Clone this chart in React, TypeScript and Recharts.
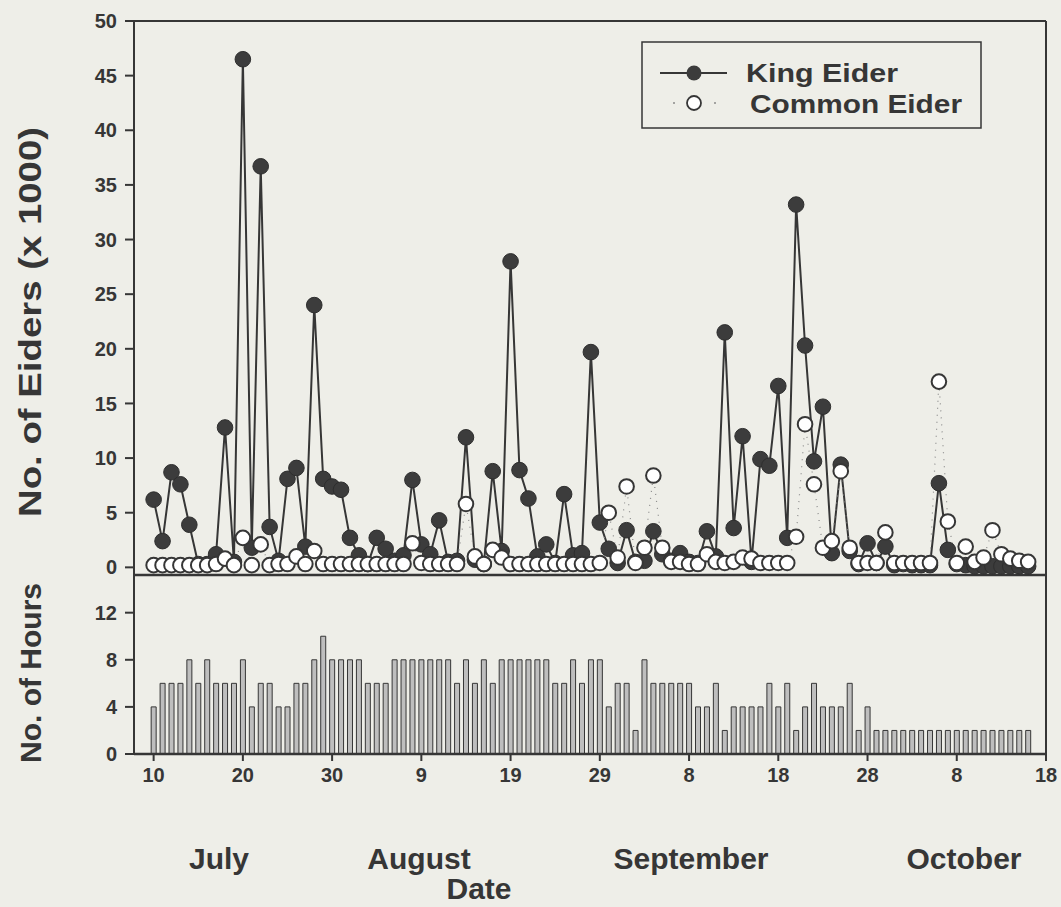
import React from 'react';
import { ComposedChart, Line, XAxis, YAxis, BarChart, Bar, ReferenceLine } from 'recharts';

// King Eider counts (x 1000), one per day starting 10 July
const kingEider = [
  6.2, 2.4, 8.7, 7.6, 3.9, 0.3, 0.3, 1.2, 12.8, 0.5,
  46.5, 1.8, 36.7, 3.7, 0.6, 8.1, 9.1, 1.9, 24.0, 8.1,
  7.4, 7.1, 2.7, 1.1, 0.3, 2.7, 1.7, 0.6, 1.1, 8.0,
  2.1, 1.2, 4.3, 0.5, 0.6, 11.9, 0.7, 0.3, 8.8, 1.5,
  28.0, 8.9, 6.3, 1.0, 2.1, 0.4, 6.7, 1.1, 1.3, 19.7,
  4.1, 1.7, 0.4, 3.4, 0.5, 0.6, 3.3, 1.2, 0.6, 1.3,
  0.5, 0.4, 3.3, 1.0, 21.5, 3.6, 12.0, 0.5, 9.9, 9.3,
  16.6, 2.7, 33.2, 20.3, 9.7, 14.7, 1.3, 9.4, 1.5, 0.3,
  2.2, 0.4, 1.9, 0.2, 0.3, 0.2, 0.2, 0.2, 7.7, 1.6,
  0.3, 0.2, 0.1, 0.1, 0.1, 0.1, 0.1, 0.1, 0.1,
];

// Common Eider counts (x 1000)
const commonEider = [
  0.2, 0.2, 0.2, 0.2, 0.2, 0.2, 0.2, 0.3, 0.8, 0.2,
  2.7, 0.2, 2.1, 0.2, 0.3, 0.3, 1.0, 0.3, 1.5, 0.3,
  0.3, 0.3, 0.3, 0.3, 0.3, 0.3, 0.3, 0.3, 0.3, 2.2,
  0.4, 0.3, 0.3, 0.3, 0.3, 5.8, 1.0, 0.3, 1.6, 0.9,
  0.3, 0.3, 0.3, 0.3, 0.3, 0.3, 0.3, 0.3, 0.3, 0.3,
  0.4, 5.0, 0.9, 7.4, 0.4, 1.8, 8.4, 1.8, 0.5, 0.5,
  0.3, 0.3, 1.2, 0.5, 0.4, 0.5, 0.9, 0.8, 0.4, 0.4,
  0.4, 0.4, 2.8, 13.1, 7.6, 1.8, 2.4, 8.8, 1.8, 0.4,
  0.4, 0.4, 3.2, 0.4, 0.4, 0.4, 0.4, 0.4, 17.0, 4.2,
  0.4, 1.9, 0.5, 0.9, 3.4, 1.2, 0.8, 0.6, 0.5,
];

// Hours of observation per day
const hoursObserved = [
  4, 6, 6, 6, 8, 6, 8, 6, 6, 6,
  8, 4, 6, 6, 4, 4, 6, 6, 8, 10,
  8, 8, 8, 8, 6, 6, 6, 8, 8, 8,
  8, 8, 8, 8, 6, 8, 6, 8, 6, 8,
  8, 8, 8, 8, 8, 6, 6, 8, 6, 8,
  8, 4, 6, 6, 2, 8, 6, 6, 6, 6,
  6, 4, 4, 6, 2, 4, 4, 4, 4, 6,
  4, 6, 2, 4, 6, 4, 4, 4, 6, 2,
  4, 2, 2, 2, 2, 2, 2, 2, 2, 2,
  2, 2, 2, 2, 2, 2, 2, 2, 2,
];

const xTickDays = [0, 10, 20, 30, 40, 50, 60, 70, 80, 90, 100];
const xTickLabels = ['10', '20', '30', '9', '19', '29', '8', '18', '28', '8', '18'];
const eiderTicks = [0, 5, 10, 15, 20, 25, 30, 35, 40, 45, 50];
const hourTicks = [0, 4, 8, 12];
const monthLabels = ['July', 'August', 'September', 'October'];
const seriesNames = ['King Eider', 'Common Eider'];

const eiderData = kingEider.map((k, i) => ({ day: i, king: k, common: commonEider[i] }));
const hoursData = hoursObserved.map((h, i) => ({ day: i, hours: h }));

const INK = '#363636';
const BG = '#eeeee8';
const FONT = '"Liberation Sans", Arial, Helvetica, sans-serif';
const X_DOMAIN: [number, number] = [-2.2, 100];
const monthX = [219, 419, 691, 964];

const tickStyle = { fill: INK, fontSize: 20, fontWeight: 700, fontFamily: FONT };

const KingDot = (p: any) => {
  if (p.cx == null || p.cy == null) return <g key={p.key} />;
  return <circle key={p.key} cx={p.cx} cy={p.cy} r={7.8} fill="#3c3c3c" stroke="#2e2e2e" strokeWidth={1} />;
};

const CommonDot = (p: any) => {
  if (p.cx == null || p.cy == null) return <g key={p.key} />;
  return <circle key={p.key} cx={p.cx} cy={p.cy} r={7.3} fill="#ffffff" stroke={INK} strokeWidth={2} />;
};

export default function App() {
  return (
    <div style={{ position: 'absolute', left: 0, top: 0, width: 1061, height: 907, background: BG, overflow: 'hidden' }}>
      <div style={{ position: 'absolute', left: 0, top: 0 }}>
        <ComposedChart width={1061} height={580} data={eiderData} margin={{ top: 21, right: 15, bottom: 5, left: 74 }}>
          <XAxis type="number" dataKey="day" domain={X_DOMAIN} hide />
          <YAxis
            width={60}
            domain={[-0.7, 50]}
            ticks={eiderTicks}
            interval={0}
            tickSize={9}
            tickMargin={8}
            axisLine={{ stroke: INK, strokeWidth: 2 }}
            tickLine={{ stroke: INK, strokeWidth: 2 }}
            tick={tickStyle}
          />
          <ReferenceLine y={50} stroke={INK} strokeWidth={2} />
          <ReferenceLine y={-0.7} stroke={INK} strokeWidth={2.5} />
          <ReferenceLine x={100} stroke={INK} strokeWidth={2} />
          <Line
            type="linear"
            dataKey="king"
            stroke={INK}
            strokeWidth={2}
            dot={KingDot}
            isAnimationActive={false}
          />
          <Line
            type="linear"
            dataKey="common"
            stroke="#8a8a8a"
            strokeWidth={1.2}
            strokeDasharray="1 6"
            dot={CommonDot}
            isAnimationActive={false}
          />
        </ComposedChart>
      </div>
      <div style={{ position: 'absolute', left: 0, top: 575 }}>
        <BarChart width={1061} height={219} data={hoursData} margin={{ top: 0, right: 15, bottom: 0, left: 74 }} barSize={5}>
          <XAxis
            type="number"
            dataKey="day"
            domain={X_DOMAIN}
            ticks={xTickDays}
            interval={0}
            tickFormatter={(v: number) => xTickLabels[xTickDays.indexOf(v)]}
            height={40}
            tickSize={7}
            tickMargin={7}
            axisLine={{ stroke: INK, strokeWidth: 2.5 }}
            tickLine={{ stroke: INK, strokeWidth: 2 }}
            tick={tickStyle}
          />
          <YAxis
            width={60}
            domain={[0, 15.2]}
            ticks={hourTicks}
            interval={0}
            tickSize={9}
            tickMargin={8}
            axisLine={{ stroke: INK, strokeWidth: 2 }}
            tickLine={{ stroke: INK, strokeWidth: 2 }}
            tick={tickStyle}
          />
          <ReferenceLine x={100} stroke={INK} strokeWidth={2} />
          <Bar dataKey="hours" fill="#bebebe" stroke={INK} strokeWidth={1} isAnimationActive={false} />
        </BarChart>
      </div>
      <svg width={1061} height={907} style={{ position: 'absolute', left: 0, top: 0, pointerEvents: 'none' }}>
        <g fontFamily={FONT} fontWeight={700} fill={INK}>
          <text transform="translate(41,322) rotate(-90)" textAnchor="middle" fontSize={31} textLength={390} lengthAdjust="spacingAndGlyphs">No. of Eiders (x 1000)</text>
          <text transform="translate(41,673) rotate(-90)" textAnchor="middle" fontSize={30}>No. of Hours</text>
          {monthLabels.map((m, i) => (
            <text key={m} x={monthX[i]} y={869} textAnchor="middle" fontSize={30}>{m}</text>
          ))}
          <text x={479} y={899} textAnchor="middle" fontSize={30}>Date</text>
        </g>
        <g>
          <rect x={642} y={42} width={339} height={86} fill="none" stroke={INK} strokeWidth={1.5} />
          <line x1={660} y1={73} x2={727} y2={73} stroke={INK} strokeWidth={2} />
          <circle cx={694} cy={73} r={7.5} fill="#3c3c3c" />
          <circle cx={674} cy={103} r={1} fill="#8a8a8a" />
          <circle cx={715} cy={103} r={1} fill="#8a8a8a" />
          <circle cx={694} cy={103} r={7} fill="#fff" stroke={INK} strokeWidth={1.8} />
          <text x={746} y={82} fontFamily={FONT} fontWeight={700} fontSize={26} textLength={152} lengthAdjust="spacingAndGlyphs" fill={INK}>{seriesNames[0]}</text>
          <text x={750} y={113} fontFamily={FONT} fontWeight={700} fontSize={26} textLength={212} lengthAdjust="spacingAndGlyphs" fill={INK}>{seriesNames[1]}</text>
        </g>
      </svg>
    </div>
  );
}
